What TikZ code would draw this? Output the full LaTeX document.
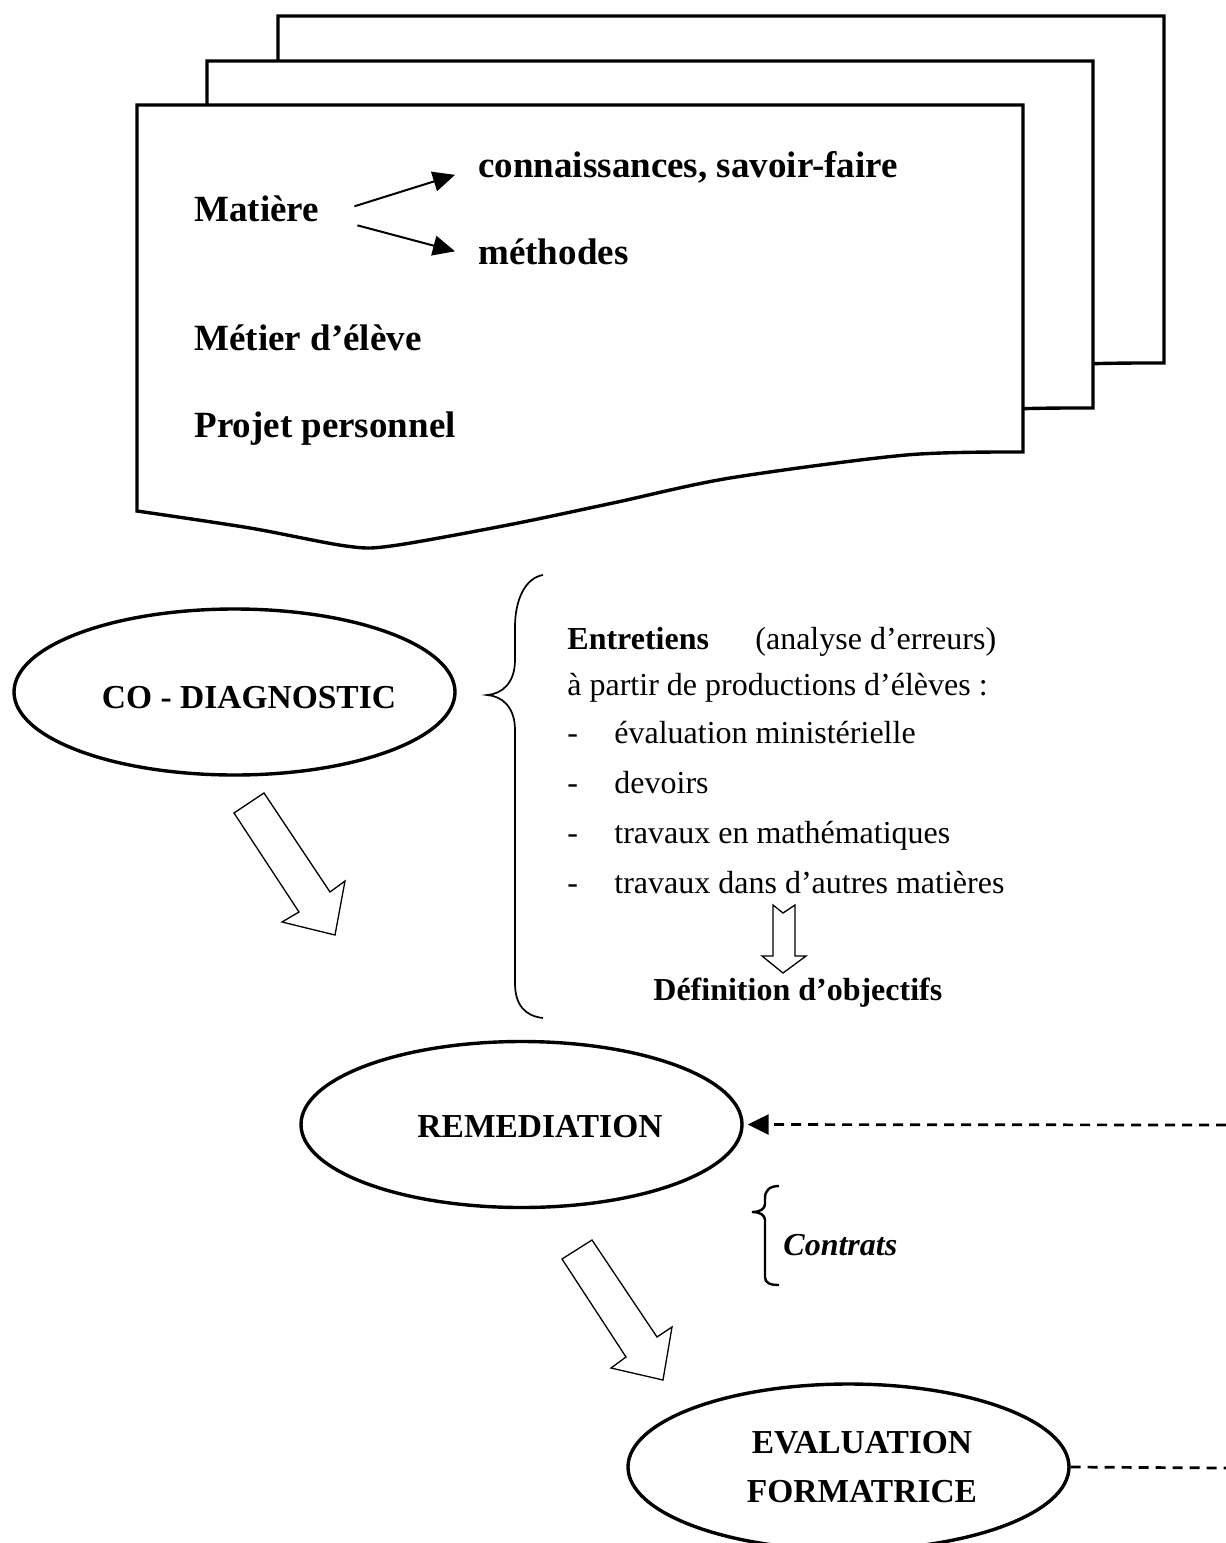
\documentclass[tikz,border=0pt]{standalone}
\usepackage{fontspec}
\setmainfont{Liberation Serif}
\usetikzlibrary{shapes.geometric,arrows.meta}

\tikzset{
  sheetbox/.style={draw, line width=1.7pt, fill=white},
  ovalbox/.style={ellipse, draw, line width=1.7pt, minimum width=220.5pt, minimum height=83pt, inner sep=0pt},
  sheettxt/.style={font=\fontsize{18.5}{22}\selectfont\bfseries, anchor=base west, inner sep=0pt},
  ovaltxt/.style={font=\fontsize{16.75}{24.5}\selectfont\bfseries, align=center, inner sep=0pt},
  bodytxt/.style={font=\fontsize{16}{19}\selectfont, anchor=base west, inner sep=0pt},
  bodybold/.style={bodytxt, font=\fontsize{16}{19}\selectfont\bfseries},
  hollowarrow/.style={draw, line width=0.65pt, fill=white},
  curly/.style={draw, line width=0.85pt},
  feedback/.style={line width=1.35pt, dash pattern=on 5pt off 3.5pt},
}

\begin{document}
\begin{tikzpicture}[x=0.5pt, y=-0.5pt]
    \useasboundingbox (0,0) rectangle (1226,1543);

    % Stack of sheets, back to front
    \foreach \dx/\dy in {141/-89, 70/-44, 0/0}
    {
        \begin{scope}[shift={(\dx,\dy)}]
            \draw[sheetbox] (137,105) -- (1023,105)
                -- plot[smooth, tension=0.5] coordinates {(1023,452) (906,455) (730,478) (613,503) (508,525) (391,546) (346,546) (250,528) (137,511)}
                -- cycle;
        \end{scope}
    }

    % Text on the front sheet
    \node[sheettxt] (matiere) at (194,221) {Matière};
    \node[sheettxt] (connaiss) at (478,177) {connaissances, savoir-faire};
    \node[sheettxt] (methodes) at (478,264) {méthodes};
    \node[sheettxt] (metier) at (194,350) {Métier d’élève};
    \node[sheettxt] (projet) at (194,437) {Projet personnel};

    \draw[line width=1pt, -{Triangle[length=11pt,width=10pt]}] ([shift={(35,-2)}]matiere.east) -- ([shift={(-23,8)}]connaiss.west);
    \draw[line width=1pt, -{Triangle[length=11pt,width=10pt]}] ([shift={(38,17)}]matiere.east) -- ([shift={(-23,0)}]methodes.west);

    % The three stages
    \node[ovalbox] (codiag) at (234.5,692) {};
    \node[ovaltxt, anchor=base] (codiagtxt) at (249,708) {CO - DIAGNOSTIC};

    \node[ovalbox] (remed) at (521.5,1124.5) {};
    \node[ovaltxt, anchor=base] (remedtxt) at (540,1137) {REMEDIATION};

    \node[ovalbox] (evalf) at (848.5,1467) {};
    \node[ovaltxt] (evalftxt) at (862,1467) {EVALUATION\\FORMATRICE};

    % Big brace and its list
    \draw[curly] (543,575) .. controls (525,578) and (515,600) .. (515,627) -- (515,660)
        .. controls (515,683) and (502,694) .. (487,695)
        .. controls (502,696) and (515,707) .. (515,730) -- (515,983)
        .. controls (515,1005) and (525,1016) .. (543,1018);

    \node[bodybold] (entretiens) at (567,649) {Entretiens};
    \node[bodytxt] (analyse) at (755,649) {(analyse d’erreurs)};
    \node[bodytxt] (partir) at (567,695) {à partir de productions d’élèves :};
    \foreach \y/\lbl [count=\i] in {743/évaluation ministérielle, 793/devoirs, 843/travaux en mathématiques, 893/travaux dans d’autres matières}
    {
        \node[bodytxt] (dash\i) at (567,\y) {-};
        \node[bodytxt] (item\i) at (614,\y) {\lbl};
    }

    \draw[hollowarrow] (773,905) -- (783,913) -- (795,905) -- (795,956) -- (806,956) -- (783,973) -- (762,956) -- (773,956) -- cycle;
    \node[bodybold] (objectifs) at (653,1000) {Définition d’objectifs};

    % Hollow arrows between stages
    \draw[hollowarrow] (234,813) -- (264,793) -- (330,892) -- (345,881) -- (335,935) -- (282,922) -- (299,912) -- cycle;
    \draw[hollowarrow] (562,1259) -- (592,1240) -- (657,1337) -- (672,1327) -- (663,1380) -- (611,1368) -- (626,1357) -- cycle;

    % Small brace
    \draw[curly, line width=1.2pt] (779,1186) .. controls (770,1186) and (765,1190) .. (765,1198) -- (765,1204)
        .. controls (765,1209) and (760,1212) .. (752,1212)
        .. controls (760,1212) and (765,1215) .. (765,1220) -- (765,1277)
        .. controls (765,1283) and (770,1285) .. (779,1285);
    \node[bodybold, font=\fontsize{16}{19}\selectfont\bfseries\itshape] (contrats) at (783,1255) {Contrats};

    % Feedback loop (dashed)
    \coordinate (backR) at (1226,1125);
    \coordinate (backE) at (1226,1468);
    \draw[feedback, -{Triangle[length=10.5pt,width=10pt]}, shorten >=2pt] (backR) -- (remed.east);
    \draw[feedback] (evalf.east) -- (backE);

\end{tikzpicture}
\end{document}
